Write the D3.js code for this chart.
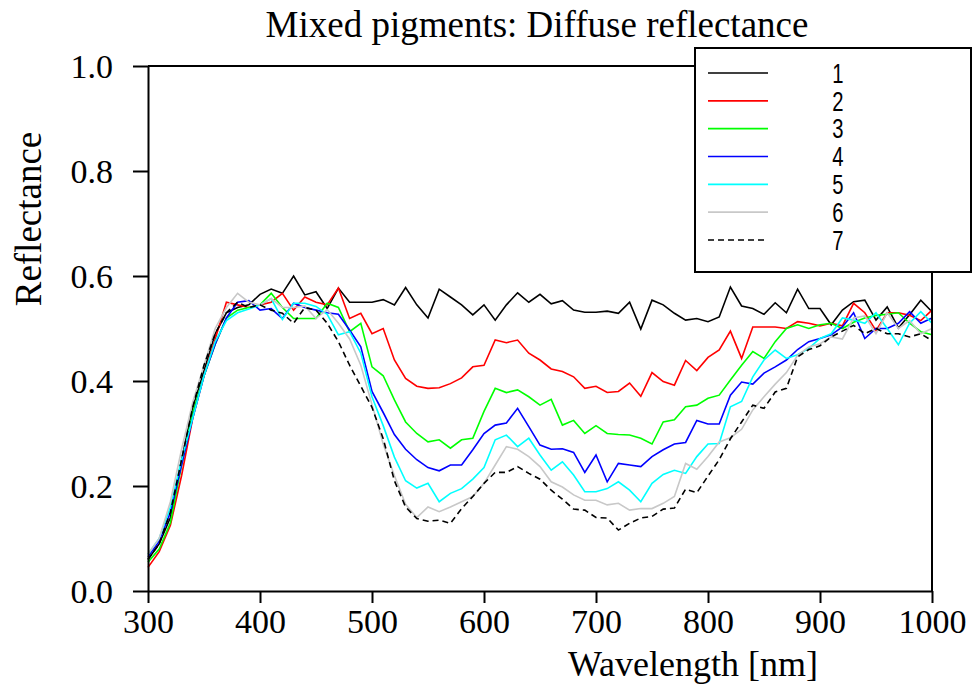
<!DOCTYPE html>
<html>
<head>
<meta charset="utf-8">
<script src="https://cdn.jsdelivr.net/npm/d3@7"></script>
<style>
	body { margin: 0; background: #fff; }
	svg text { fill: #000; }
	.serif { font-family: 'Liberation Serif', 'Times New Roman', serif; }
	.legendText { font-family: 'Liberation Sans', Arial, sans-serif; }
</style>
</head>
<body>
<div id="js_chart"></div>
<script>
// wavelengths 300..1000 nm, every 10 nm
const wavelengths = d3.range(300, 1001, 10);

const series1 = [0.06, 0.09, 0.14, 0.25, 0.35, 0.42, 0.49, 0.53, 0.54, 0.545, 0.565, 0.575, 0.567, 0.6, 0.564, 0.57, 0.538, 0.577, 0.55, 0.55, 0.55,
	0.555, 0.545, 0.578, 0.545, 0.52, 0.575, 0.56, 0.545, 0.526, 0.545, 0.516, 0.545, 0.568, 0.55, 0.565, 0.547, 0.553, 0.535, 0.531, 0.531,
	0.533, 0.529, 0.55, 0.499, 0.554, 0.545, 0.529, 0.516, 0.519, 0.513, 0.522, 0.579, 0.543, 0.538, 0.527, 0.549, 0.53, 0.575, 0.538, 0.538,
	0.507, 0.535, 0.551, 0.554, 0.516, 0.541, 0.501, 0.526, 0.554, 0.532];
const series2 = [0.045, 0.075, 0.125, 0.22, 0.33, 0.41, 0.48, 0.55, 0.545, 0.54, 0.545, 0.55, 0.567, 0.535, 0.56, 0.55, 0.545, 0.577, 0.519, 0.529, 0.49,
	0.5, 0.44, 0.405, 0.39, 0.386, 0.387, 0.395, 0.406, 0.427, 0.43, 0.478, 0.473, 0.478, 0.453, 0.44, 0.423, 0.418, 0.408, 0.386, 0.39,
	0.378, 0.38, 0.396, 0.371, 0.416, 0.399, 0.392, 0.439, 0.42, 0.445, 0.459, 0.495, 0.443, 0.503, 0.503, 0.503, 0.5, 0.513, 0.51, 0.505,
	0.51, 0.505, 0.548, 0.53, 0.496, 0.53, 0.53, 0.525, 0.515, 0.535];
const series3 = [0.055, 0.08, 0.13, 0.24, 0.34, 0.41, 0.47, 0.52, 0.535, 0.54, 0.545, 0.567, 0.54, 0.519, 0.519, 0.519, 0.548, 0.54, 0.494, 0.51, 0.427,
	0.41, 0.364, 0.322, 0.3, 0.284, 0.288, 0.272, 0.288, 0.291, 0.342, 0.386, 0.378, 0.383, 0.37, 0.354, 0.365, 0.316, 0.325, 0.3, 0.315,
	0.3, 0.298, 0.297, 0.291, 0.28, 0.322, 0.326, 0.351, 0.354, 0.367, 0.373, 0.402, 0.43, 0.456, 0.443, 0.475, 0.5, 0.507, 0.5, 0.507,
	0.51, 0.5, 0.512, 0.52, 0.525, 0.527, 0.53, 0.51, 0.494, 0.488];
const series4 = [0.065, 0.095, 0.15, 0.24, 0.33, 0.41, 0.47, 0.52, 0.55, 0.553, 0.535, 0.538, 0.519, 0.548, 0.54, 0.535, 0.53, 0.527, 0.497, 0.465, 0.38,
	0.34, 0.298, 0.27, 0.25, 0.235, 0.229, 0.24, 0.24, 0.269, 0.3, 0.316, 0.32, 0.348, 0.313, 0.278, 0.27, 0.271, 0.264, 0.226, 0.259,
	0.208, 0.243, 0.24, 0.237, 0.256, 0.269, 0.28, 0.283, 0.325, 0.318, 0.318, 0.373, 0.398, 0.394, 0.415, 0.427, 0.44, 0.46, 0.475, 0.481,
	0.488, 0.503, 0.53, 0.481, 0.5, 0.5, 0.51, 0.532, 0.51, 0.52];
const series5 = [0.07, 0.1, 0.16, 0.25, 0.33, 0.41, 0.475, 0.515, 0.53, 0.537, 0.545, 0.557, 0.517, 0.548, 0.548, 0.542, 0.527, 0.488, 0.494, 0.453, 0.37,
	0.315, 0.255, 0.21, 0.196, 0.205, 0.17, 0.186, 0.195, 0.213, 0.235, 0.288, 0.297, 0.275, 0.291, 0.259, 0.23, 0.246, 0.221, 0.189, 0.189,
	0.195, 0.208, 0.192, 0.17, 0.205, 0.222, 0.23, 0.224, 0.256, 0.28, 0.281, 0.351, 0.361, 0.408, 0.44, 0.459, 0.443, 0.45, 0.462, 0.481,
	0.49, 0.52, 0.516, 0.51, 0.53, 0.5, 0.469, 0.51, 0.532, 0.51];
const series6 = [0.07, 0.1, 0.17, 0.27, 0.36, 0.43, 0.5, 0.54, 0.567, 0.55, 0.545, 0.557, 0.54, 0.54, 0.543, 0.519, 0.536, 0.51, 0.48, 0.43, 0.355,
	0.28, 0.22, 0.165, 0.14, 0.16, 0.151, 0.16, 0.17, 0.18, 0.205, 0.24, 0.275, 0.27, 0.256, 0.237, 0.208, 0.198, 0.183, 0.173, 0.173,
	0.164, 0.167, 0.154, 0.157, 0.157, 0.167, 0.18, 0.243, 0.232, 0.256, 0.284, 0.292, 0.308, 0.345, 0.37, 0.394, 0.416, 0.449, 0.465, 0.471,
	0.484, 0.48, 0.52, 0.524, 0.49, 0.53, 0.5, 0.515, 0.49, 0.5];
const series7 = [0.06, 0.09, 0.15, 0.25, 0.35, 0.43, 0.49, 0.53, 0.55, 0.54, 0.545, 0.535, 0.529, 0.51, 0.54, 0.535, 0.51, 0.475, 0.43, 0.39, 0.35,
	0.29, 0.21, 0.16, 0.138, 0.133, 0.135, 0.129, 0.157, 0.18, 0.205, 0.226, 0.226, 0.237, 0.224, 0.213, 0.192, 0.175, 0.156, 0.154, 0.14,
	0.139, 0.116, 0.129, 0.139, 0.142, 0.156, 0.158, 0.194, 0.187, 0.219, 0.25, 0.29, 0.322, 0.354, 0.348, 0.379, 0.386, 0.446, 0.46, 0.467,
	0.484, 0.495, 0.506, 0.49, 0.5, 0.49, 0.49, 0.484, 0.49, 0.477];

const seriesNames = ['1', '2', '3', '4', '5', '6', '7'];
const seriesValues = [series1, series2, series3, series4, series5, series6, series7];
const seriesColors = ['#000000', '#ff0000', '#00ff00', '#0000ff', '#00ffff', '#c8c8c8', '#000000'];
const seriesDash = [null, null, null, null, null, null, '6,4'];

const xTicks = [300, 400, 500, 600, 700, 800, 900, 1000];
const yTicks = [0.0, 0.2, 0.4, 0.6, 0.8, 1.0];

const width = 973, height = 691;
const plot = { left: 148, right: 932, top: 66, bottom: 591 };

const svg = d3.select('#js_chart').append('svg')
	.attr('width', width)
	.attr('height', height);

const x = d3.scaleLinear().domain([300, 1000]).range([plot.left, plot.right]);
const y = d3.scaleLinear().domain([0, 1]).range([plot.bottom, plot.top]);

// series lines
const line = d3.line()
	.x(function (d) { return x(d[0]); })
	.y(function (d) { return y(d[1]); });

seriesValues.forEach(function (vals, i) {
	svg.append('path')
		.datum(wavelengths.map(function (w, j) { return [w, vals[j]]; }))
		.attr('d', line)
		.style('fill', 'none')
		.style('stroke', seriesColors[i])
		.style('stroke-width', 1.6)
		.style('stroke-dasharray', seriesDash[i]);
});

// frame: top and right
function drawLine(x1, y1, x2, y2) {
	svg.append('line')
		.attr('x1', x1).attr('y1', y1)
		.attr('x2', x2).attr('y2', y2)
		.style('stroke', '#000')
		.style('stroke-width', 2);
}
drawLine(plot.left, plot.top, plot.right, plot.top);
drawLine(plot.right, plot.top, plot.right, plot.bottom);

// axes
const xAxis = svg.append('g')
	.attr('transform', 'translate(0,' + plot.bottom + ')')
	.call(d3.axisBottom(x).tickValues(xTicks).tickSize(12).tickSizeOuter(0).tickPadding(6)
		.tickFormat(d3.format('d')));
const yAxis = svg.append('g')
	.attr('transform', 'translate(' + plot.left + ',0)')
	.call(d3.axisLeft(y).tickValues(yTicks).tickSize(15).tickSizeOuter(0).tickPadding(20)
		.tickFormat(d3.format('.1f')));

[xAxis, yAxis].forEach(function (ax) {
	ax.selectAll('path, line').style('stroke', '#000').style('stroke-width', 2);
	ax.selectAll('text')
		.attr('class', 'serif')
		.style('font-size', '34px')
		.style('fill', '#000');
});
yAxis.selectAll('text').attr('dy', '0.34em');

// titles
svg.append('text')
	.attr('class', 'serif')
	.attr('x', 537).attr('y', 37)
	.style('text-anchor', 'middle')
	.style('font-size', '37px')
	.text('Mixed pigments: Diffuse reflectance');

svg.append('text')
	.attr('class', 'serif')
	.attr('x', 693).attr('y', 676)
	.style('text-anchor', 'middle')
	.style('font-size', '36px')
	.text('Wavelength [nm]');

svg.append('text')
	.attr('class', 'serif')
	.attr('transform', 'translate(41,219) rotate(-90)')
	.style('text-anchor', 'middle')
	.style('font-size', '37px')
	.text('Reflectance');

// legend
const legend = svg.append('g');
legend.append('rect')
	.attr('x', 695).attr('y', 48)
	.attr('width', 276).attr('height', 224)
	.style('fill', '#fff')
	.style('stroke', '#000')
	.style('stroke-width', 2);

const legendY = d3.scaleLinear().domain([0, 6]).range([73, 240]);
const rows = legend.selectAll('.legendRow')
	.data(seriesNames).enter().append('g')
	.classed('legendRow', true)
	.attr('transform', function (d, i) { return 'translate(0,' + legendY(i) + ')'; });
rows.append('line')
	.attr('x1', 708).attr('x2', 768)
	.attr('y1', 0).attr('y2', 0)
	.style('stroke', function (d, i) { return seriesColors[i]; })
	.style('stroke-width', 1.6)
	.style('stroke-dasharray', function (d, i) { return seriesDash[i]; });
// narrow tall digits, as in the original
rows.append('text')
	.attr('class', 'legendText')
	.attr('transform', 'translate(838,0) scale(0.75,1)')
	.attr('dy', '0.36em')
	.style('text-anchor', 'middle')
	.style('font-size', '27px')
	.text(function (d) { return d; });
</script>
</body>
</html>
